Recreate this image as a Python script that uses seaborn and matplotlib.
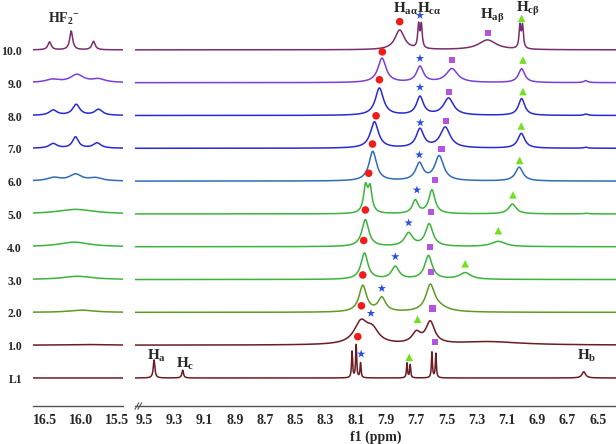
import numpy as np
import pandas as pd
import matplotlib
matplotlib.use('Agg')
import matplotlib.pyplot as plt
import matplotlib.ticker as ticker
import seaborn as sns

# Etiquetas de las trazas (de abajo hacia arriba)
etiquetas = ['L1', '1.0', '2.0', '3.0', '4.0', '5.0', '6.0', '7.0', '8.0', '9.0', '10.0']
colores = ['#6b1d22', '#6b1d22', '#5f9a22', '#3cb43c', '#3cb43c', '#3cb43c',
           '#2f6db5', '#2a2ad2', '#2a2ad2', '#7a3fd8', '#7a2e6e']

# Picos zona aromatica: (ppm, altura, anchura)
picos_L1 = [(9.434, 0.55, 0.013), (9.245, 0.24, 0.013), (8.125, 0.8, 0.008), (8.098, 1.0, 0.008),
            (8.069, 0.45, 0.008), (7.762, 0.45, 0.008), (7.741, 0.4, 0.008), (7.597, 0.78, 0.008),
            (7.571, 0.74, 0.008), (6.593, 0.19, 0.028)]
picos_1 = [(8.066, 0.66, 0.11), (7.99, 0.38, 0.1), (7.70, 0.32, 0.07), (7.608, 0.66, 0.07), (7.22, 0.1, 0.5)]
picos_2 = [(8.054, 0.8, 0.06), (7.928, 0.42, 0.06), (7.608, 0.78, 0.07), (7.55, 0.12, 0.15)]
picos_3 = [(8.043, 0.8, 0.055), (7.839, 0.38, 0.06), (7.62, 0.72, 0.06), (7.377, 0.2, 0.09)]
picos_4 = [(8.037, 0.82, 0.055), (7.751, 0.4, 0.065), (7.615, 0.68, 0.06), (7.158, 0.16, 0.11)]
picos_5 = [(8.036, 0.78, 0.032), (8.006, 0.74, 0.032), (7.707, 0.4, 0.045), (7.597, 0.72, 0.05),
           (7.065, 0.3, 0.06), (6.58, 0.02, 0.03)]
picos_6 = [(7.988, 0.9, 0.06), (7.68, 0.52, 0.06), (7.549, 0.75, 0.07), (7.02, 0.42, 0.06)]
picos_7 = [(7.977, 0.8, 0.065), (7.676, 0.57, 0.06), (7.509, 0.63, 0.08), (7.006, 0.45, 0.055),
           (6.58, 0.03, 0.03)]
picos_8 = [(7.944, 0.83, 0.065), (7.676, 0.56, 0.055), (7.487, 0.52, 0.08), (7.004, 0.51, 0.05),
           (6.58, 0.04, 0.03)]
picos_9 = [(7.927, 0.74, 0.065), (7.676, 0.48, 0.055), (7.465, 0.42, 0.09), (7.004, 0.42, 0.05),
           (6.58, 0.06, 0.03)]
picos_10 = [(7.81, 0.6, 0.075), (7.685, 0.7, 0.014), (7.667, 0.7, 0.014), (7.23, 0.3, 0.14),
            (7.015, 0.68, 0.014), (6.998, 0.68, 0.014)]

# Picos HF2- : (ppm, altura, anchura)
hf_L1 = []
hf_1 = [(15.95, 0.02, 0.6)]
hf_2 = [(16.0, 0.07, 0.4)]
hf_3 = [(16.05, 0.1, 0.5)]
hf_4 = [(16.1, 0.14, 0.5)]
hf_5 = [(16.08, 0.14, 0.6)]
hf_6 = [(16.38, 0.1, 0.22), (16.08, 0.2, 0.2), (15.8, 0.09, 0.22)]
hf_7 = [(16.39, 0.14, 0.13), (16.08, 0.34, 0.1), (15.78, 0.16, 0.13)]
hf_8 = [(16.39, 0.16, 0.13), (16.07, 0.33, 0.12), (15.76, 0.18, 0.13)]
hf_9 = [(16.4, 0.09, 0.22), (16.06, 0.24, 0.22), (15.76, 0.1, 0.22)]
hf_10 = [(16.44, 0.24, 0.055), (16.14, 0.57, 0.05), (15.83, 0.26, 0.055)]

picos = [picos_L1, picos_1, picos_2, picos_3, picos_4, picos_5, picos_6, picos_7, picos_8, picos_9, picos_10]
picos_hf = [hf_L1, hf_1, hf_2, hf_3, hf_4, hf_5, hf_6, hf_7, hf_8, hf_9, hf_10]

# Marcadores: (indice de traza, ppm, nivel sobre la linea base)
circulos = [(0, 8.087, 1.26), (1, 8.063, 1.2), (2, 8.054, 1.14), (3, 8.048, 1.19), (4, 8.037, 1.12),
            (5, 8.015, 1.24), (6, 7.99, 1.13), (7, 7.966, 0.99), (8, 7.944, 1.09), (9, 7.925, 0.94),
            (10, 7.81, 0.86)]
estrellas = [(0, 8.065, 0.73), (1, 8.0, 0.97), (2, 7.928, 0.73), (3, 7.839, 0.7), (4, 7.751, 0.73),
             (5, 7.696, 0.73), (6, 7.68, 0.8), (7, 7.674, 0.78), (8, 7.676, 0.86), (9, 7.676, 0.74),
             (10, 7.676, 1.05)]
cuadrados = [(0, 7.575, 1.1), (1, 7.593, 1.12), (2, 7.604, 1.24), (3, 7.61, 1.0), (4, 7.604, 1.05),
             (5, 7.577, 1.04), (6, 7.534, 0.98), (7, 7.505, 0.83), (8, 7.483, 0.71), (9, 7.465, 0.7),
             (10, 7.224, 0.51)]
triangulos = [(0, 7.747, 0.63), (1, 7.692, 0.79), (3, 7.377, 0.48), (4, 7.158, 0.49), (5, 7.061, 0.58),
              (6, 7.017, 0.63), (7, 7.006, 0.68), (8, 6.995, 0.73), (9, 6.995, 0.69), (10, 7.004, 0.96)]


def espectro(x, lista):
    y = np.zeros_like(x)
    for x0, h, w in lista:
        y += h / (1 + ((x - x0) / (w / 2)) ** 2)
    return y


sns.set_style('white')
plt.rcParams['font.family'] = ['Liberation Serif', 'DejaVu Serif']
plt.rcParams['font.weight'] = 'bold'
plt.rcParams['mathtext.fontset'] = 'custom'
plt.rcParams['mathtext.rm'] = 'Liberation Serif:bold'
plt.rcParams['mathtext.it'] = 'Liberation Serif:bold'
plt.rcParams['mathtext.bf'] = 'Liberation Serif:bold'
plt.rcParams['mathtext.default'] = 'rm'

W, H = 616, 444
fig = plt.figure(figsize=(W / 100, H / 100), dpi=100)
eje_izq = fig.add_axes([33 / W, 38 / H, 90 / W, 406 / H])
eje_der = fig.add_axes([135 / W, 38 / H, 481 / W, 406 / H])

x_der = np.linspace(9.56, 6.38, 8000)
x_izq = np.linspace(16.67, 15.42, 1500)

for i, (lista, lista_hf) in enumerate(zip(picos, picos_hf)):
    sns.lineplot(x=x_der, y=i + espectro(x_der, lista), ax=eje_der, color=colores[i],
                 linewidth=1.1, sort=False)
    sns.lineplot(x=x_izq, y=i + espectro(x_izq, lista_hf), ax=eje_izq, color=colores[i],
                 linewidth=1.1, sort=False)
    fig.text(22 / W, 1 - (378 - 32.8 * i + 2) / H, etiquetas[i], ha='right', va='center',
             fontsize=8.5, fontweight='bold')

# Marcadores de los protones
estilos = [(circulos, 'o', '#f01c1c', 30), (estrellas, '*', '#2a4fe0', 40),
           (cuadrados, 's', '#b455e0', 20), (triangulos, '^', '#74e020', 30)]
for lista, marca, color, tam in estilos:
    df = pd.DataFrame(lista, columns=['traza', 'ppm', 'nivel'])
    sns.scatterplot(x=df['ppm'], y=df['traza'] + df['nivel'], ax=eje_der, marker=marca,
                    color=color, s=tam, edgecolor='none', zorder=5)

# Rotulos
rot = dict(ha='center', va='center', fontsize=11)
eje_der.text(7.773, 11.26, r'H$_{a\alpha}$', **rot)
eje_der.text(7.615, 11.26, r'H$_{c\alpha}$', **rot)
eje_der.text(7.199, 11.02, r'H$_{a\beta}$', **rot)
eje_der.text(6.962, 11.26, r'H$_{c\beta}$', **rot)
eje_der.text(9.42, 0.66, r'H$_{a}$', **rot)
eje_der.text(9.225, 0.42, r'H$_{c}$', **rot)
eje_der.text(6.575, 0.66, r'H$_{b}$', **rot)
eje_izq.text(16.24, 10.95, r'HF$_2$$^{-}$', ha='center', va='center', fontsize=10)

for eje in (eje_izq, eje_der):
    eje.set_ylim(-0.854, 11.52)
    eje.set_yticks([])
    eje.set_ylabel('')
    for lado in ('left', 'right', 'top'):
        eje.spines[lado].set_visible(False)
    eje.spines['bottom'].set_color('#555555')
    eje.spines['bottom'].set_linewidth(1.0)
    eje.patch.set_alpha(0)
    eje.tick_params(axis='x', which='both', direction='out', color='#555555', labelsize=10,
                    pad=2.5, width=0.8)
    eje.tick_params(axis='x', which='major', length=3)
    eje.tick_params(axis='x', which='minor', length=2)

eje_der.set_xlim(9.56, 6.38)
eje_der.xaxis.set_major_locator(ticker.FixedLocator(np.round(np.arange(6.5, 9.51, 0.2), 1)))
eje_der.xaxis.set_minor_locator(ticker.MultipleLocator(0.05))
eje_der.xaxis.set_major_formatter(ticker.FormatStrFormatter('%.1f'))
eje_der.set_xlabel('f1 (ppm)', fontsize=10, fontweight='bold', labelpad=2.5)

eje_izq.set_xlim(16.67, 15.42)
eje_izq.xaxis.set_major_locator(ticker.FixedLocator([16.5, 16.0, 15.5]))
eje_izq.xaxis.set_minor_locator(ticker.MultipleLocator(0.25))
eje_izq.xaxis.set_major_formatter(ticker.FormatStrFormatter('%.1f'))
eje_izq.set_xlabel('')

# Marca de corte del eje
for dx in (0.0, 0.006):
    eje_der.plot([0.0 + dx, 0.008 + dx], [-0.008, 0.008], transform=eje_der.transAxes,
                 color='#555555', linewidth=0.8, clip_on=False)

fig.savefig('out.png', dpi=100)
